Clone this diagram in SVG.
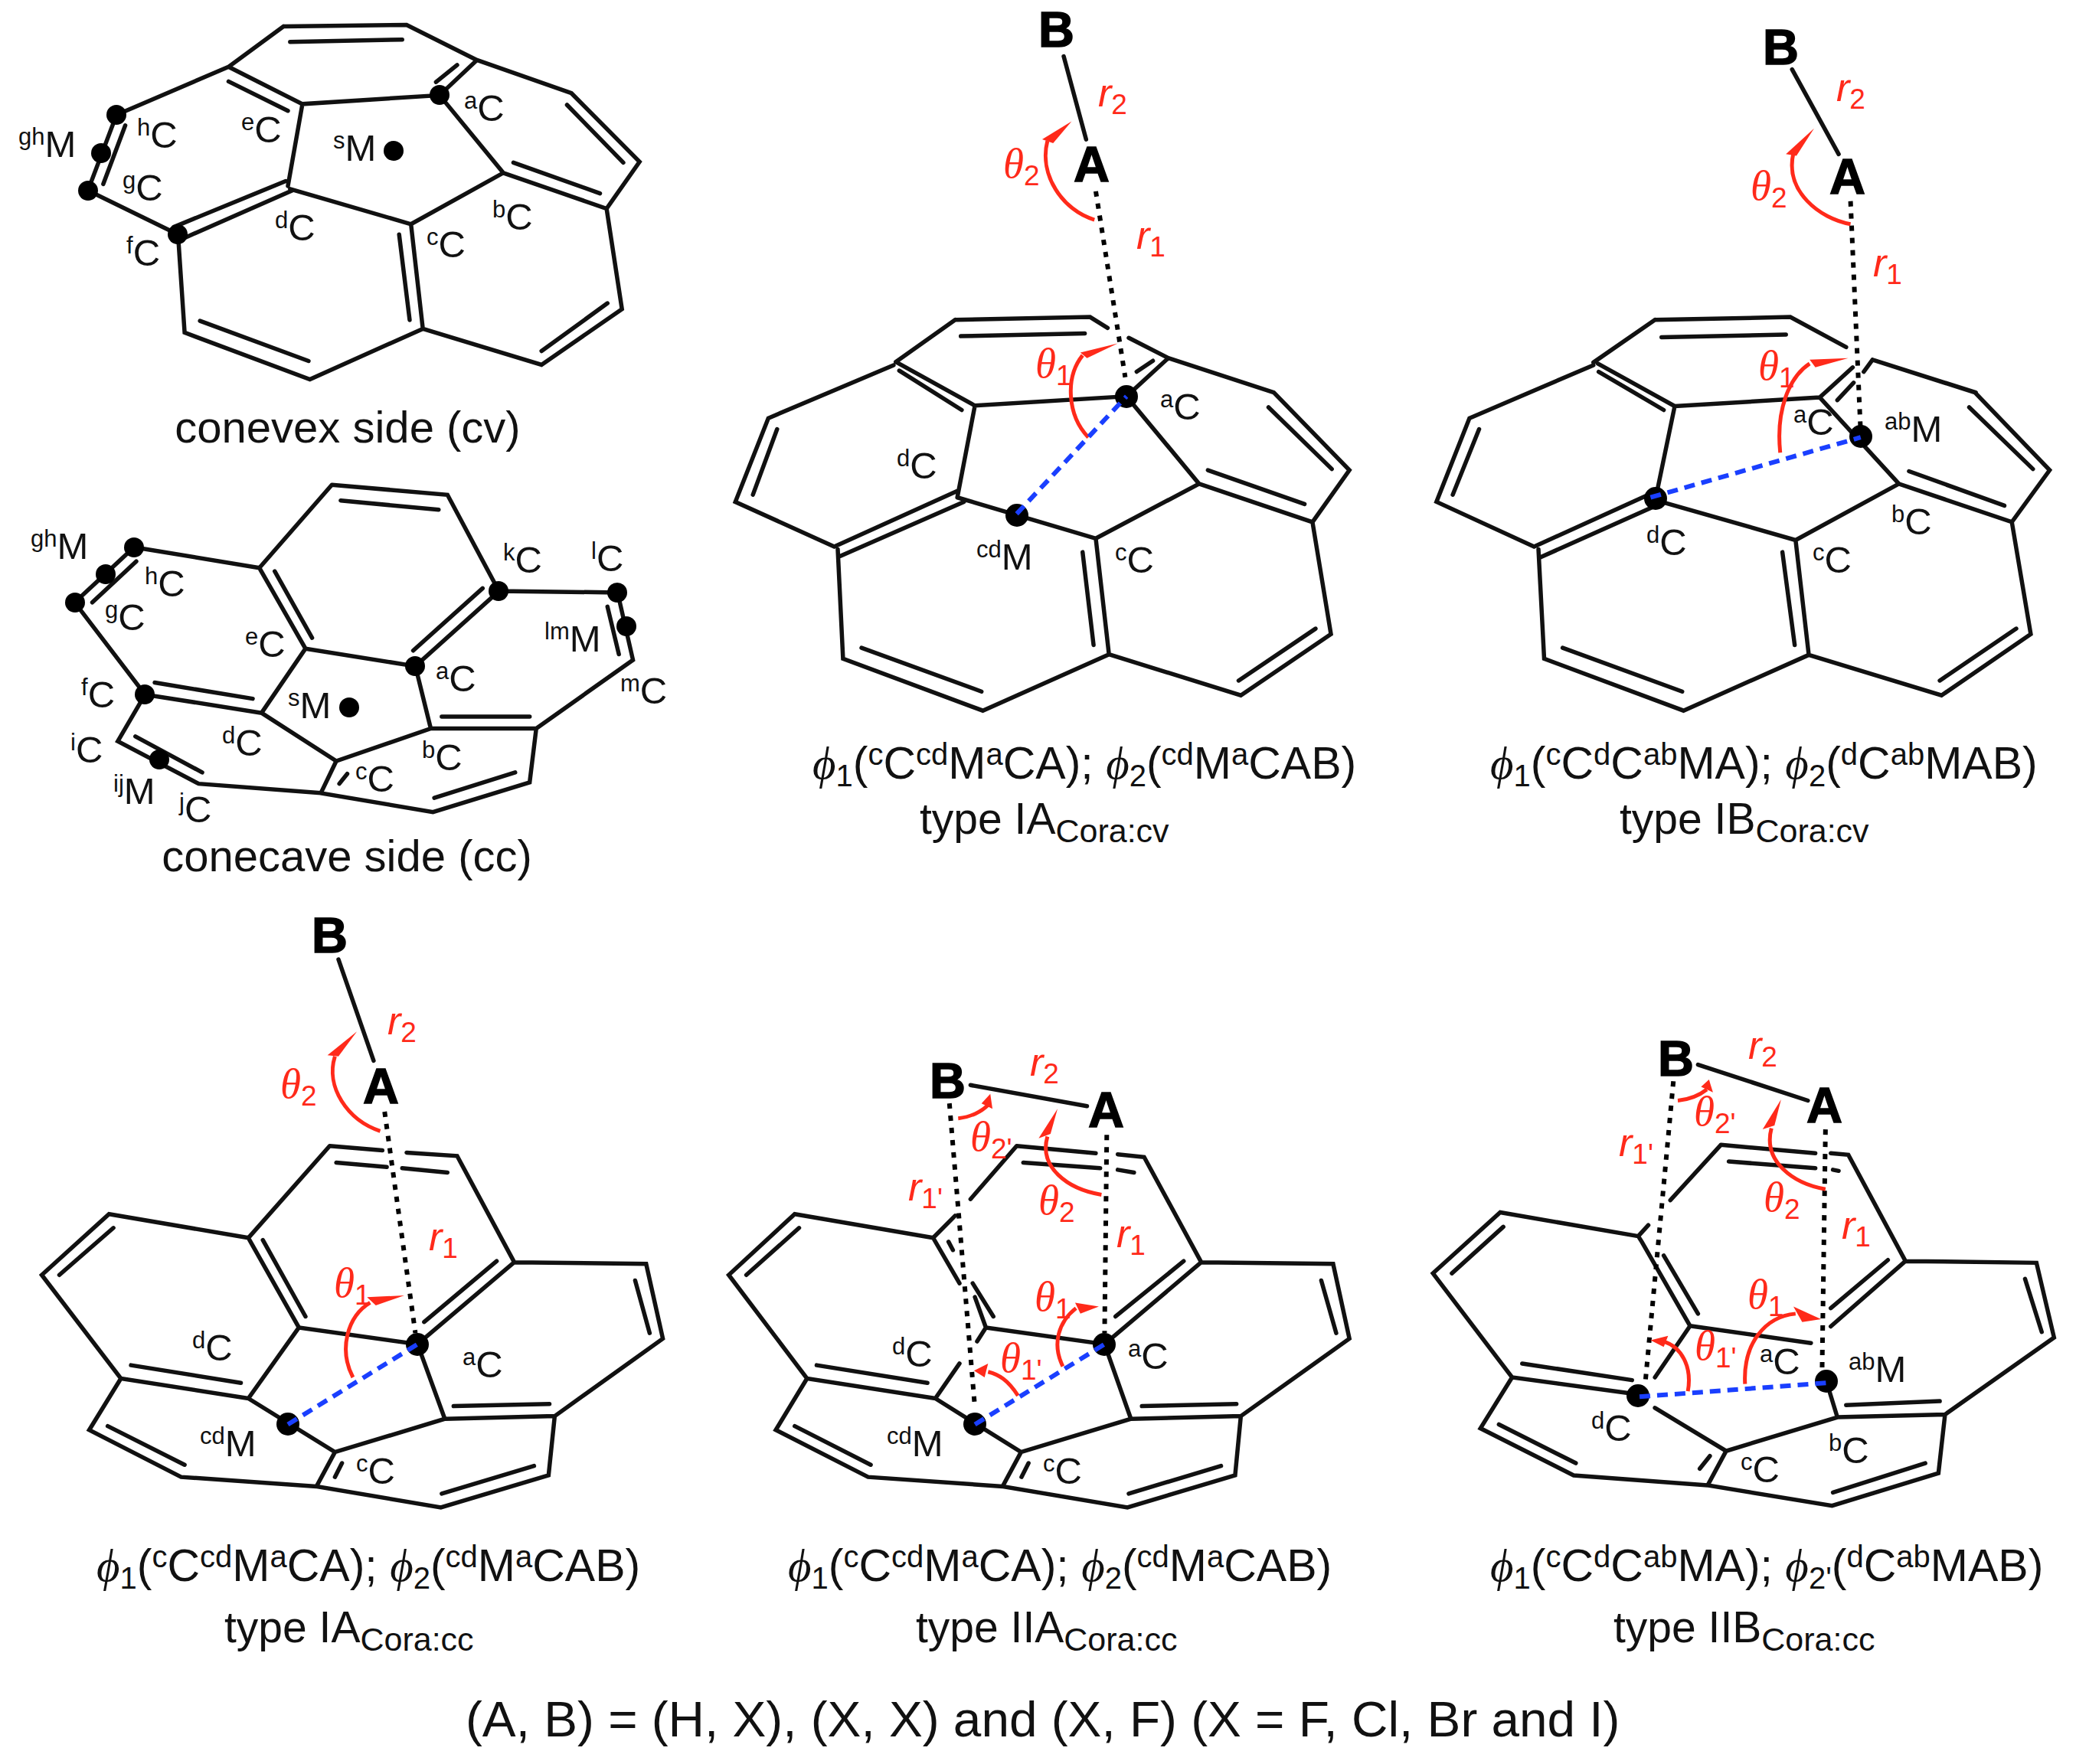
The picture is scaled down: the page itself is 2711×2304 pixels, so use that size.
<svg xmlns="http://www.w3.org/2000/svg" width="2711" height="2304" viewBox="0 0 2711 2304">
<style>
.b{fill:none;stroke:#111;stroke-width:5.5;stroke-linecap:round;vector-effect:non-scaling-stroke}
.d{fill:none;stroke:#000;stroke-width:6;stroke-dasharray:7 9;vector-effect:non-scaling-stroke}
.h{fill:none;stroke:#1a3fff;stroke-width:6;stroke-dasharray:14 9;vector-effect:non-scaling-stroke}
.a{fill:none;stroke:#ff2a1a;stroke-width:5;vector-effect:non-scaling-stroke}
.p{fill:#ff2a1a}
circle{fill:#000}
text{font-family:"Liberation Sans",Arial,sans-serif;fill:#111}
.l{font-size:49px}
.s{font-size:31px}
.c{font-size:58px}
.f{font-size:59px}
.u{font-size:40px}
.g{font-family:"Liberation Serif","DejaVu Serif",serif;font-style:italic}
.k{font-size:65px;font-weight:bold;fill:#000;stroke:#000;stroke-width:1.5px}
.t{font-family:"Liberation Serif","DejaVu Serif",serif;font-style:italic;font-size:55px;fill:#ff2a1a}
.r{font-style:italic;font-size:52px;fill:#ff2a1a}
.n{font-family:"Liberation Sans",Arial,sans-serif;font-style:normal;font-size:37px}
.o{font-size:43px}
</style>

<g id="cora-convex">
<path class="b" transform="scale(.574,.3827)" d="M645,90L925,85L1085,205L1000,325L688,355L520,228L645,90M660,143L915,135M1040,222L992,280M520,278L655,378M520,228L265,392L200,650L405,800M285,428L235,628M395,775L650,618M415,815L665,650M655,635L688,355M660,645L935,765L1145,590L1000,325M1145,590L1380,712L1455,552L1300,318L1085,205M1168,555L1365,660M1290,358L1418,555M1380,712L1415,1055L1232,1245L962,1122L935,765M1382,1035L1232,1198M908,800L932,1092M962,1122L705,1295L420,1135L405,800M455,1095L702,1232"/>
<circle cx="574" cy="124" r="13"/><circle cx="152" cy="150" r="13"/><circle cx="132" cy="200" r="13"/><circle cx="115" cy="249" r="13"/><circle cx="232" cy="306" r="13"/><circle cx="514" cy="197" r="13"/>
<text class="l" x="24" y="205"><tspan class="s" dy="-16">gh</tspan><tspan dy="16">M</tspan></text>
<text class="l" x="179" y="193"><tspan class="s" dy="-16">h</tspan><tspan dy="16">C</tspan></text>
<text class="l" x="315" y="186"><tspan class="s" dy="-16">e</tspan><tspan dy="16">C</tspan></text>
<text class="l" x="435" y="210"><tspan class="s" dy="-16">s</tspan><tspan dy="16">M</tspan></text>
<text class="l" x="606" y="158"><tspan class="s" dy="-16">a</tspan><tspan dy="16">C</tspan></text>
<text class="l" x="160" y="262"><tspan class="s" dy="-16">g</tspan><tspan dy="16">C</tspan></text>
<text class="l" x="359" y="314"><tspan class="s" dy="-16">d</tspan><tspan dy="16">C</tspan></text>
<text class="l" x="557" y="336"><tspan class="s" dy="-16">c</tspan><tspan dy="16">C</tspan></text>
<text class="l" x="643" y="300"><tspan class="s" dy="-16">b</tspan><tspan dy="16">C</tspan></text>
<text class="l" x="165" y="347"><tspan class="s" dy="-16">f</tspan><tspan dy="16">C</tspan></text>
<text class="c" x="454" y="578" text-anchor="middle">conevex side (cv)</text>
</g>

<g id="cora-concave">
<path class="b" transform="translate(0,600) scale(.574,.37)" d="M755,90L1018,125L1135,465L945,730L695,668L590,383L755,90M775,145L998,178M1098,455L940,675M625,395L710,630M590,383L305,310L170,505L330,830L595,895L695,668M310,360L210,505M352,788L575,845M595,895L765,1065L980,950L945,730M980,950L1220,950L1440,708L1405,470L1135,465M1005,908L1205,908M1382,520L1408,688M1220,950L1205,1140L985,1245L730,1178L765,1065M1172,1105L988,1195M790,1110L772,1145M730,1178L452,1145L268,995L330,830M308,978L460,1105"/>
<circle cx="175" cy="715" r="13"/><circle cx="138" cy="750" r="13"/><circle cx="98" cy="787" r="13"/><circle cx="651" cy="772" r="13"/><circle cx="806" cy="774" r="13"/><circle cx="818" cy="818" r="13"/><circle cx="542" cy="870" r="13"/><circle cx="189" cy="907" r="13"/><circle cx="208" cy="992" r="13"/><circle cx="456" cy="924" r="13"/>
<text class="l" x="40" y="730"><tspan class="s" dy="-16">gh</tspan><tspan dy="16">M</tspan></text>
<text class="l" x="189" y="779"><tspan class="s" dy="-16">h</tspan><tspan dy="16">C</tspan></text>
<text class="l" x="137" y="823"><tspan class="s" dy="-16">g</tspan><tspan dy="16">C</tspan></text>
<text class="l" x="320" y="858"><tspan class="s" dy="-16">e</tspan><tspan dy="16">C</tspan></text>
<text class="l" x="657" y="748"><tspan class="s" dy="-16">k</tspan><tspan dy="16">C</tspan></text>
<text class="l" x="772" y="746"><tspan class="s" dy="-16">l</tspan><tspan dy="16">C</tspan></text>
<text class="l" x="711" y="851"><tspan class="s" dy="-16">lm</tspan><tspan dy="16">M</tspan></text>
<text class="l" x="569" y="903"><tspan class="s" dy="-16">a</tspan><tspan dy="16">C</tspan></text>
<text class="l" x="810" y="919"><tspan class="s" dy="-16">m</tspan><tspan dy="16">C</tspan></text>
<text class="l" x="106" y="924"><tspan class="s" dy="-16">f</tspan><tspan dy="16">C</tspan></text>
<text class="l" x="376" y="938"><tspan class="s" dy="-16">s</tspan><tspan dy="16">M</tspan></text>
<text class="l" x="92" y="996"><tspan class="s" dy="-16">i</tspan><tspan dy="16">C</tspan></text>
<text class="l" x="290" y="987"><tspan class="s" dy="-16">d</tspan><tspan dy="16">C</tspan></text>
<text class="l" x="551" y="1006"><tspan class="s" dy="-16">b</tspan><tspan dy="16">C</tspan></text>
<text class="l" x="464" y="1034"><tspan class="s" dy="-16">c</tspan><tspan dy="16">C</tspan></text>
<text class="l" x="148" y="1050"><tspan class="s" dy="-16">ij</tspan><tspan dy="16">M</tspan></text>
<text class="l" x="234" y="1074"><tspan class="s" dy="-16">j</tspan><tspan dy="16">C</tspan></text>
<text class="c" x="453" y="1138" text-anchor="middle">conecave side (cc)</text>
</g>

<g id="type-IA-cv">
<g transform="translate(900,0) scale(.574,.714)">
<path class="b" d="M852,103L903,255M605,585L912,580L952,600M1000,618L1090,655L995,725L650,742L470,662M605,585L470,662M618,615L900,610M1018,680L1055,660M478,678L620,750M465,668L180,765L105,918L330,1000L610,898M200,785L145,905M342,1018L625,918M610,910L650,742M610,910L925,985L1160,885L995,725M1160,885L1418,955L1502,860L1330,718L1090,655M1180,860L1400,922M1318,745L1462,858M1418,955L1460,1160L1255,1272L955,1197L925,985M1425,1150L1250,1245M895,1010L920,1180M955,1197L668,1300L350,1205L338,1005M392,1185L665,1265"/>
<path class="d" d="M925,350L992,690"/>
<path class="a" d="M922,402C850,385 795,320 815,258"/><polygon class="p" points="870,222 803,255 828,262"/>
<path class="a" d="M908,800C860,760 855,690 895,650"/><polygon class="p" points="975,628 890,645 905,655"/>
</g>
<circle cx="1471" cy="518" r="15"/><circle cx="1328" cy="673" r="15"/>
<path class="h" transform="translate(900,0) scale(.574,.714)" d="M745,940L995,725"/>
<text class="k" x="1356" y="61">B</text><text class="k" x="1402" y="237">A</text>
<text class="t" x="1310" y="232">θ<tspan class="n" dy="10">2</tspan></text>
<text class="r" x="1434" y="139">r<tspan class="n" dy="10">2</tspan></text>
<text class="r" x="1484" y="325">r<tspan class="n" dy="10">1</tspan></text>
<text class="t" x="1352" y="493">θ<tspan class="n" dy="10">1</tspan></text>
<text class="l" x="1171" y="625"><tspan class="s" dy="-16">d</tspan><tspan dy="16">C</tspan></text>
<text class="l" x="1515" y="548"><tspan class="s" dy="-16">a</tspan><tspan dy="16">C</tspan></text>
<text class="l" x="1275" y="744"><tspan class="s" dy="-16">cd</tspan><tspan dy="16">M</tspan></text>
<text class="l" x="1456" y="748"><tspan class="s" dy="-16">c</tspan><tspan dy="16">C</tspan></text>
<text class="f" x="1061" y="1017"><tspan class="g">ϕ</tspan><tspan class="u" dy="10">1</tspan><tspan dy="-10">(</tspan><tspan class="u" dy="-18">c</tspan><tspan dy="18">C</tspan><tspan class="u" dy="-18">cd</tspan><tspan dy="18">M</tspan><tspan class="u" dy="-18">a</tspan><tspan dy="18">CA); </tspan><tspan class="g">ϕ</tspan><tspan class="u" dy="10">2</tspan><tspan dy="-10">(</tspan><tspan class="u" dy="-18">cd</tspan><tspan dy="18">M</tspan><tspan class="u" dy="-18">a</tspan><tspan dy="18">CAB)</tspan></text>
<text class="f" x="1201" y="1089"><tspan font-size="57">type IA</tspan><tspan class="o" dy="11">Cora:cv</tspan></text>
</g>

<g id="type-IB-cv">
<g transform="translate(1811,0) scale(.574,.714)">
<path class="b" d="M922,127L1028,282M610,585L918,580L1045,635M1105,658L1340,718M1105,658L1085,680M625,617L908,612M985,727L1060,672M1025,732L1062,700M985,727L1165,885M655,743L985,727M655,743L480,665M482,680L630,750M470,663L610,585M470,668L188,765L113,918L335,1000L595,905M210,785L150,905M348,1020L612,925M612,910L655,743M612,915L930,988L1165,885L1422,955L1508,860L1338,718L1105,658M1188,862L1405,925M1325,745L1470,858M1422,955L1465,1160L1262,1272L960,1198L930,988M1432,1150L1258,1245M900,1010L928,1180M960,1198L675,1300L358,1205L345,1005M400,1185L672,1265"/>
<path class="d" d="M1055,368L1078,790"/>
<path class="a" d="M1055,410C985,400 905,350 925,280"/><polygon class="p" points="972,235 908,282 932,285"/>
<path class="a" d="M895,828C885,750 915,690 962,665"/><polygon class="p" points="1050,655 962,658 975,672"/>
</g>
<circle cx="2430" cy="570" r="15"/><circle cx="2162" cy="651" r="15"/>
<path class="h" transform="translate(1811,0) scale(.574,.714)" d="M600,910L1078,800"/>
<text class="k" x="2302" y="84">B</text><text class="k" x="2389" y="253">A</text>
<text class="t" x="2286" y="261">θ<tspan class="n" dy="10">2</tspan></text>
<text class="r" x="2398" y="132">r<tspan class="n" dy="10">2</tspan></text>
<text class="r" x="2446" y="361">r<tspan class="n" dy="10">1</tspan></text>
<text class="t" x="2296" y="496">θ<tspan class="n" dy="10">1</tspan></text>
<text class="l" x="2342" y="568"><tspan class="s" dy="-16">a</tspan><tspan dy="16">C</tspan></text>
<text class="l" x="2461" y="577"><tspan class="s" dy="-16">ab</tspan><tspan dy="16">M</tspan></text>
<text class="l" x="2470" y="698"><tspan class="s" dy="-16">b</tspan><tspan dy="16">C</tspan></text>
<text class="l" x="2150" y="725"><tspan class="s" dy="-16">d</tspan><tspan dy="16">C</tspan></text>
<text class="l" x="2367" y="748"><tspan class="s" dy="-16">c</tspan><tspan dy="16">C</tspan></text>
<text class="f" x="1946" y="1017"><tspan class="g">ϕ</tspan><tspan class="u" dy="10">1</tspan><tspan dy="-10">(</tspan><tspan class="u" dy="-18">c</tspan><tspan dy="18">C</tspan><tspan class="u" dy="-18">d</tspan><tspan dy="18">C</tspan><tspan class="u" dy="-18">ab</tspan><tspan dy="18">MA); </tspan><tspan class="g">ϕ</tspan><tspan class="u" dy="10">2</tspan><tspan dy="-10">(</tspan><tspan class="u" dy="-18">d</tspan><tspan dy="18">C</tspan><tspan class="u" dy="-18">ab</tspan><tspan dy="18">MAB)</tspan></text>
<text class="f" x="2115" y="1089"><tspan font-size="57">type IB</tspan><tspan class="o" dy="11">Cora:cv</tspan></text>
</g>

<g id="type-IA-cc">
<g transform="translate(0,1170) scale(.574,.723)">
<path class="b" d="M770,115L850,298M750,452L870,460M925,464L1040,470L1170,662L950,810L680,780L565,618L750,452M765,482L880,490M915,492L1018,500M1130,660L965,770M598,622L695,760M565,618L248,575L95,685L275,872L565,908L680,780M258,600L135,685M298,848L548,880M565,908L762,1005L1012,945L950,810M1012,945L1262,940L1508,800L1470,665L1170,662M1032,922L1250,918M1445,695L1478,790M1262,940L1248,1047L1003,1105L720,1067L762,1005M1215,1030L1005,1080M778,1025L762,1050M720,1067L412,1050L203,965L275,872M245,958L420,1028"/>
<path class="d" d="M875,390L945,790"/>
<path class="a" d="M865,425C790,405 740,345 762,290"/><polygon class="p" points="812,245 745,288 770,290"/>
<path class="a" d="M803,870C770,820 790,760 842,735"/><polygon class="p" points="920,722 835,725 855,740"/>
</g>
<circle cx="545" cy="1756" r="15"/><circle cx="376" cy="1860" r="15"/>
<path class="h" transform="translate(0,1170) scale(.574,.723)" d="M655,955L950,810"/>
<text class="k" x="407" y="1244">B</text><text class="k" x="474" y="1441">A</text>
<text class="t" x="366" y="1434">θ<tspan class="n" dy="10">2</tspan></text>
<text class="r" x="506" y="1351">r<tspan class="n" dy="10">2</tspan></text>
<text class="r" x="560" y="1633">r<tspan class="n" dy="10">1</tspan></text>
<text class="t" x="436" y="1694">θ<tspan class="n" dy="10">1</tspan></text>
<text class="l" x="251" y="1777"><tspan class="s" dy="-16">d</tspan><tspan dy="16">C</tspan></text>
<text class="l" x="604" y="1799"><tspan class="s" dy="-16">a</tspan><tspan dy="16">C</tspan></text>
<text class="l" x="261" y="1902"><tspan class="s" dy="-16">cd</tspan><tspan dy="16">M</tspan></text>
<text class="l" x="465" y="1938"><tspan class="s" dy="-16">c</tspan><tspan dy="16">C</tspan></text>
<text class="f" x="126" y="2065"><tspan class="g">ϕ</tspan><tspan class="u" dy="10">1</tspan><tspan dy="-10">(</tspan><tspan class="u" dy="-18">c</tspan><tspan dy="18">C</tspan><tspan class="u" dy="-18">cd</tspan><tspan dy="18">M</tspan><tspan class="u" dy="-18">a</tspan><tspan dy="18">CA); </tspan><tspan class="g">ϕ</tspan><tspan class="u" dy="10">2</tspan><tspan dy="-10">(</tspan><tspan class="u" dy="-18">cd</tspan><tspan dy="18">M</tspan><tspan class="u" dy="-18">a</tspan><tspan dy="18">CAB)</tspan></text>
<text class="f" x="293" y="2145"><tspan font-size="57">type IA</tspan><tspan class="o" dy="11">Cora:cc</tspan></text>
</g>

<g id="type-IIA-cc">
<g transform="translate(900,1170) scale(.574,.723)">
<path class="b" d="M640,342L905,380M745,452L925,465M975,467L1035,472L1165,662L945,810L675,780L650,725M615,700L555,618L605,578M640,548L745,452M760,482L935,492M975,495L1012,500M1125,660L970,760M645,700L692,760M590,625L600,640M555,618L240,575L90,685L268,872L560,908L615,845M655,805L675,780M250,600L130,685M290,848L542,880M560,908L755,1005L1005,945L945,810M1005,945L1255,940L1502,800L1465,665L1165,662M1030,922L1245,918M1438,695L1472,790M1255,940L1242,1047L997,1105L713,1067L755,1005M1210,1030L1000,1080M772,1025L756,1050M713,1067L407,1050L197,965L268,872M240,958L413,1028"/>
<path class="d" d="M950,432L945,790M592,375L650,925"/>
<path class="a" d="M612,402C640,400 665,390 680,378"/><polygon class="p" points="685,358 665,375 690,385"/>
<path class="a" d="M938,540C860,530 795,490 815,435"/><polygon class="p" points="838,385 795,438 822,430"/>
<path class="a" d="M850,850C825,810 840,770 880,745"/><polygon class="p" points="932,742 878,735 890,755"/>
<path class="a" d="M748,903C725,875 705,865 680,860"/><polygon class="p" points="648,858 680,845 672,870"/>
</g>
<circle cx="1442" cy="1756" r="15"/><circle cx="1273" cy="1860" r="15"/>
<path class="h" transform="translate(900,1170) scale(.574,.723)" d="M650,955L945,810"/>
<text class="k" x="1214" y="1434">B</text><text class="k" x="1421" y="1472">A</text>
<text class="r" x="1345" y="1405">r<tspan class="n" dy="10">2</tspan></text>
<text class="t" x="1267" y="1503">θ<tspan class="n" dy="10">2'</tspan></text>
<text class="t" x="1356" y="1586">θ<tspan class="n" dy="10">2</tspan></text>
<text class="r" x="1186" y="1568">r<tspan class="n" dy="10">1'</tspan></text>
<text class="r" x="1458" y="1629">r<tspan class="n" dy="10">1</tspan></text>
<text class="t" x="1351" y="1712">θ<tspan class="n" dy="10">1</tspan></text>
<text class="t" x="1306" y="1792">θ<tspan class="n" dy="10">1'</tspan></text>
<text class="l" x="1165" y="1785"><tspan class="s" dy="-16">d</tspan><tspan dy="16">C</tspan></text>
<text class="l" x="1473" y="1788"><tspan class="s" dy="-16">a</tspan><tspan dy="16">C</tspan></text>
<text class="l" x="1158" y="1902"><tspan class="s" dy="-16">cd</tspan><tspan dy="16">M</tspan></text>
<text class="l" x="1362" y="1938"><tspan class="s" dy="-16">c</tspan><tspan dy="16">C</tspan></text>
<text class="f" x="1029" y="2065"><tspan class="g">ϕ</tspan><tspan class="u" dy="10">1</tspan><tspan dy="-10">(</tspan><tspan class="u" dy="-18">c</tspan><tspan dy="18">C</tspan><tspan class="u" dy="-18">cd</tspan><tspan dy="18">M</tspan><tspan class="u" dy="-18">a</tspan><tspan dy="18">CA); </tspan><tspan class="g">ϕ</tspan><tspan class="u" dy="10">2</tspan><tspan dy="-10">(</tspan><tspan class="u" dy="-18">cd</tspan><tspan dy="18">M</tspan><tspan class="u" dy="-18">a</tspan><tspan dy="18">CAB)</tspan></text>
<text class="f" x="1196" y="2145"><tspan font-size="57">type IIA</tspan><tspan class="o" dy="11">Cora:cc</tspan></text>
</g>

<g id="type-IIB-cc">
<g transform="translate(1811,1170) scale(.574,.723)">
<path class="b" d="M708,305L958,370M760,450L975,465M1010,465L1050,468L1180,660L1010,778M778,480L975,492M1015,495L1028,497M1140,658L1010,745M690,777L965,808M690,777L580,625L572,615L595,595M645,550L760,450M630,650L708,755M572,615L258,572L105,682L285,870L565,900M265,598L148,682M308,845L558,875M690,777L610,870M610,925L772,1003L1025,942L1005,890M1025,942L1270,937L1518,798L1478,663L1180,660M1045,920L1258,913M1452,692L1490,788M1270,937L1255,1043L1013,1102L730,1065L772,1003M1225,1025L1015,1078M712,1035L735,1012M730,1065L425,1047L213,962L285,870M255,955L430,1025"/>
<path class="d" d="M998,422L990,875M652,335L588,880"/>
<path class="a" d="M662,370C690,368 712,360 728,350"/><polygon class="p" points="733,332 715,345 742,355"/>
<path class="a" d="M998,530C925,520 855,480 875,420"/><polygon class="p" points="897,368 855,422 882,415"/>
<path class="a" d="M815,882C810,810 860,760 930,755"/><polygon class="p" points="988,765 925,742 945,770"/>
<path class="a" d="M685,895C695,850 670,815 630,805"/><polygon class="p" points="600,803 640,795 630,815"/>
</g>
<circle cx="2385" cy="1804" r="15"/><circle cx="2139" cy="1823" r="15"/>
<path class="h" transform="translate(1811,1170) scale(.574,.723)" d="M575,905L1000,880"/>
<text class="k" x="2165" y="1405">B</text><text class="k" x="2359" y="1466">A</text>
<text class="r" x="2283" y="1383">r<tspan class="n" dy="10">2</tspan></text>
<text class="t" x="2212" y="1470">θ<tspan class="n" dy="10">2'</tspan></text>
<text class="t" x="2303" y="1582">θ<tspan class="n" dy="10">2</tspan></text>
<text class="r" x="2114" y="1510">r<tspan class="n" dy="10">1'</tspan></text>
<text class="r" x="2405" y="1618">r<tspan class="n" dy="10">1</tspan></text>
<text class="t" x="2282" y="1709">θ<tspan class="n" dy="10">1</tspan></text>
<text class="t" x="2213" y="1776">θ<tspan class="n" dy="10">1'</tspan></text>
<text class="l" x="2298" y="1795"><tspan class="s" dy="-16">a</tspan><tspan dy="16">C</tspan></text>
<text class="l" x="2414" y="1805"><tspan class="s" dy="-16">ab</tspan><tspan dy="16">M</tspan></text>
<text class="l" x="2078" y="1882"><tspan class="s" dy="-16">d</tspan><tspan dy="16">C</tspan></text>
<text class="l" x="2388" y="1911"><tspan class="s" dy="-16">b</tspan><tspan dy="16">C</tspan></text>
<text class="l" x="2273" y="1936"><tspan class="s" dy="-16">c</tspan><tspan dy="16">C</tspan></text>
<text class="f" x="1946" y="2065"><tspan class="g">ϕ</tspan><tspan class="u" dy="10">1</tspan><tspan dy="-10">(</tspan><tspan class="u" dy="-18">c</tspan><tspan dy="18">C</tspan><tspan class="u" dy="-18">d</tspan><tspan dy="18">C</tspan><tspan class="u" dy="-18">ab</tspan><tspan dy="18">MA); </tspan><tspan class="g">ϕ</tspan><tspan class="u" dy="10">2'</tspan><tspan dy="-10">(</tspan><tspan class="u" dy="-18">d</tspan><tspan dy="18">C</tspan><tspan class="u" dy="-18">ab</tspan><tspan dy="18">MAB)</tspan></text>
<text class="f" x="2107" y="2145"><tspan font-size="57">type IIB</tspan><tspan class="o" dy="11">Cora:cc</tspan></text>
</g>

<text id="footnote" x="608" y="2268" font-size="65.7">(A, B) = (H, X), (X, X) and (X, F) (X = F, Cl, Br and I)</text>
</svg>
